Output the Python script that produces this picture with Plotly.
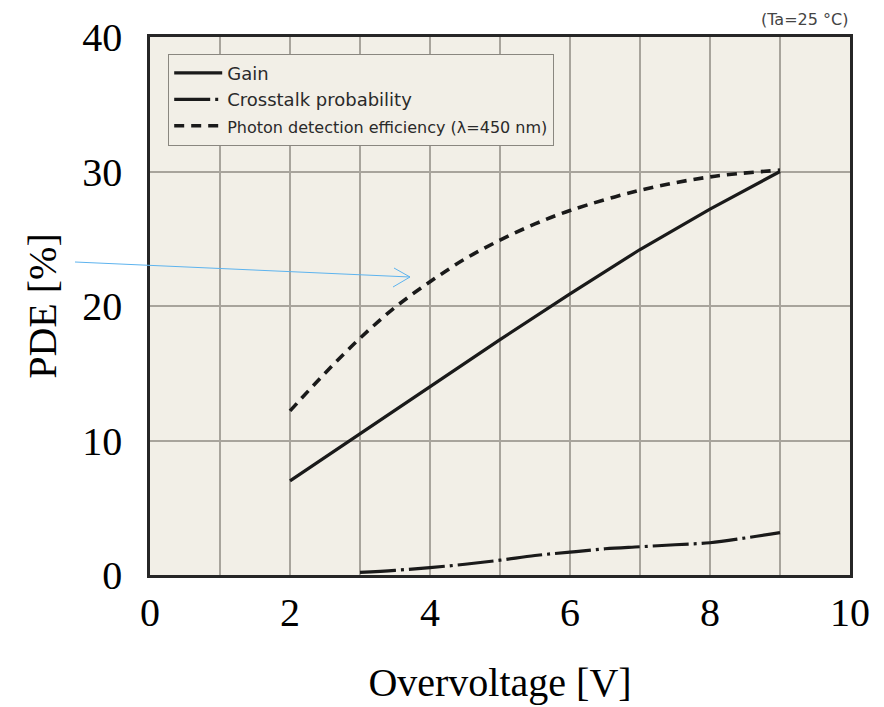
import plotly.graph_objects as go

# ---- data ----
gain_x = [2, 3, 4, 5, 6, 7, 8, 9]
gain_y = [7.0, 10.5, 14.0, 17.5, 20.9, 24.2, 27.2, 30.0]

ct_x = [3, 3.5, 4, 4.5, 5, 5.5, 6, 6.5, 7, 7.5, 8, 8.5, 9]
ct_y = [0.2, 0.35, 0.55, 0.8, 1.1, 1.45, 1.7, 1.95, 2.1, 2.25, 2.4, 2.75, 3.15]

pde_x = [2, 2.5, 3, 3.5, 4, 4.5, 5, 5.5, 6, 7, 8, 9]
pde_y = [12.2, 15.0, 17.6, 19.9, 21.8, 23.5, 24.9, 26.1, 27.1, 28.6, 29.6, 30.1]

series_names = ["Gain", "Crosstalk probability", "Photon detection efficiency (λ=450 nm)"]
x_ticks = [0, 2, 4, 6, 8, 10]
y_ticks = [0, 10, 20, 30, 40]

INK = "#1a1a1a"
BG = "#f2efe7"
GRID = "#a8a49c"

fig = go.Figure()
fig.add_trace(go.Scatter(x=gain_x, y=gain_y, mode="lines", name=series_names[0],
                         line=dict(color=INK, width=3.2)))
fig.add_trace(go.Scatter(x=ct_x, y=ct_y, mode="lines", name=series_names[1],
                         line=dict(color=INK, width=3.2, dash="36px,5px,3px,5px", shape="spline")))
fig.add_trace(go.Scatter(x=pde_x, y=pde_y, mode="lines",
                         name='<span style="font-size:16px">' + series_names[2] + '</span>',
                         line=dict(color=INK, width=3.6, dash="10px,7px", shape="spline")))

axis_font = dict(family="Liberation Serif, Times New Roman, serif", size=40, color="#000")

fig.update_layout(
    width=884, height=707,
    margin=dict(l=150, r=34, t=37, b=132),
    paper_bgcolor="white",
    plot_bgcolor=BG,
    showlegend=True,
    legend=dict(
        x=0.026, y=0.969, xanchor="left", yanchor="top",
        bgcolor=BG, bordercolor="#8a8780", borderwidth=1,
        font=dict(family="DejaVu Sans, Verdana, sans-serif", size=18, color="#2a2a2a"),
        tracegroupgap=0, itemwidth=48,
    ),
    xaxis=dict(
        range=[0, 10], tickvals=x_ticks, ticktext=[str(v) for v in x_ticks],
        showgrid=True, gridcolor=GRID, gridwidth=1.5,
        minor=dict(dtick=1, showgrid=True, gridcolor=GRID, gridwidth=1.5),
        showline=True, mirror=True, linecolor="#262626", linewidth=2.5,
        ticks="", tickfont=axis_font, ticklabelstandoff=0,
        title=dict(text="Overvoltage [V]", font=axis_font, standoff=35),
        zeroline=False, automargin=False,
    ),
    yaxis=dict(
        range=[0, 40], tickvals=y_ticks, ticktext=[str(v) for v in y_ticks],
        showgrid=True, gridcolor=GRID, gridwidth=1.5,
        showline=True, mirror=True, linecolor="#262626", linewidth=2.5,
        ticks="", tickfont=axis_font, ticklabelstandoff=17,
        title=dict(text="PDE [%]", font=axis_font, standoff=14),
        zeroline=False, automargin=False,
    ),
)

# temperature note
fig.add_annotation(text="(Ta=25 °C)", xref="paper", yref="paper", x=1.0, y=1.0,
                   xanchor="right", yanchor="bottom", yshift=6, showarrow=False,
                   font=dict(family="DejaVu Sans, Verdana, sans-serif", size=16, color="#444"))

# blue pointer arrow (paper coordinates)
def px(x):
    return (x - 150) / 700.0

def py(y):
    return (575 - y) / 538.0

arrow_col = "#5db3ee"
fig.add_shape(type="line", xref="paper", yref="paper",
              x0=px(75), y0=py(262), x1=px(410), y1=py(277),
              line=dict(color=arrow_col, width=1))
fig.add_shape(type="line", xref="paper", yref="paper",
              x0=px(394), y0=py(268), x1=px(410), y1=py(277),
              line=dict(color=arrow_col, width=1))
fig.add_shape(type="line", xref="paper", yref="paper",
              x0=px(393), y0=py(287), x1=px(410), y1=py(277),
              line=dict(color=arrow_col, width=1))

fig.write_html("out.html")
